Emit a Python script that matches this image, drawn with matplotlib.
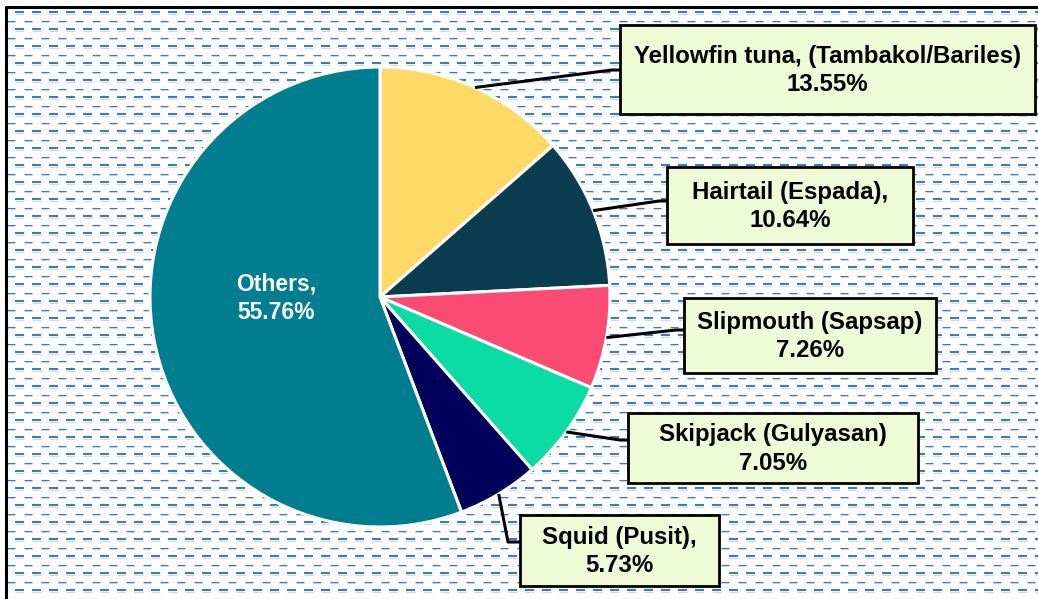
import numpy as np
import matplotlib.pyplot as plt
from matplotlib.collections import LineCollection
from matplotlib.patches import Rectangle

plt.rcParams['font.family'] = ['Liberation Sans', 'DejaVu Sans']

species = ['Yellowfin tuna, (Tambakol/Bariles)', 'Hairtail (Espada),', 'Slipmouth (Sapsap)',
           'Skipjack (Gulyasan)', 'Squid (Pusit),', 'Others,']
shares = [13.55, 10.64, 7.26, 7.05, 5.73, 55.76]
colors = ['#FFD966', '#0A3D4F', '#F94B74', '#0BDCA4', '#00005A', '#007E8F']

# label boxes in pixel coords: left, top, right, bottom
boxes = [(620, 25, 1035, 114), (667, 167, 913, 244), (684, 298, 936, 373),
         (628, 413, 918, 483), (520, 515, 719, 586)]

W, H = 1038, 599
cx, cy, R = 380, 297, 230

fig = plt.figure(figsize=(W / 100, H / 100), dpi=100)

# background with dashed pattern
bg = fig.add_axes([0, 0, 1, 1], zorder=0)
bg.set_xlim(0, W)
bg.set_ylim(H, 0)
bg.axis('off')
long_segs, short_segs = [], []
for y in np.arange(12, H, 17):
    for x in np.arange(15, W, 17):
        long_segs.append([(x, y), (x + 9, y)])
for y in np.arange(20.5, H, 17):
    for x in np.arange(7, W, 17):
        short_segs.append([(x, y), (x + 8, y)])
bg.add_collection(LineCollection([[(a[0], a[1] + 1.8), (b[0], b[1] + 1.8)] for a, b in long_segs],
                                 colors='#C4DAF0', linewidths=0.8))
bg.add_collection(LineCollection(long_segs, colors='#3A7CC2', linewidths=1.5))
bg.add_collection(LineCollection([[(a[0], a[1] + 1.2), (b[0], b[1] + 1.2)] for a, b in short_segs],
                                 colors='#C4DAF0', linewidths=0.7))
bg.add_collection(LineCollection(short_segs, colors='#3A7CC2', linewidths=0.8))
bg.plot([5.5, 5.5, W], [H, 6.5, 6.5], color='black', lw=2.2)

# pie
pax = fig.add_axes([(cx - R) / W, (H - cy - R) / H, 2 * R / W, 2 * R / H], zorder=1)
wedges, _ = pax.pie(shares, colors=colors, startangle=90, counterclock=False, radius=1,
                    wedgeprops=dict(edgecolor='white', linewidth=2.2))
pax.set_xlim(-1, 1)
pax.set_ylim(-1, 1)
pax.text(-0.45, -0.005, f'{species[-1]}\n{shares[-1]:.2f}%', color='white', fontsize=16.5,
         fontweight='bold', ha='center', va='center', linespacing=1.3)

# labels and leader lines
ov = fig.add_axes([0, 0, 1, 1], zorder=2)
ov.set_xlim(0, W)
ov.set_ylim(H, 0)
ov.axis('off')
ov.patch.set_alpha(0)
ends = [70, 201, 330, 440, 542]
for i, (name, val, box) in enumerate(zip(species[:-1], shares[:-1], boxes)):
    w = wedges[i]
    mid = np.radians((w.theta1 + w.theta2) / 2)
    sx, sy = cx + R * np.cos(mid), cy - R * np.sin(mid)
    l, t, r, b = box
    ey = ends[i]
    if i == 4:
        xs, ys = [sx, l - 12, l], [sy, ey, ey]
    else:
        xs, ys = [sx, l - 8, l], [sy, ey, ey]
    ov.plot(xs, ys, color='black', lw=2.2, solid_capstyle='butt', solid_joinstyle='round')
    ov.add_patch(Rectangle((l, t), r - l, b - t, facecolor='#EFFAD7', edgecolor='black', lw=2.0))
    ov.text((l + r) / 2, (t + b) / 2 + 1, f'{name}\n{val:.2f}%', fontsize=17.3, fontweight='bold',
            ha='center', va='center', linespacing=1.3)

fig.savefig('out.png', dpi=100)
